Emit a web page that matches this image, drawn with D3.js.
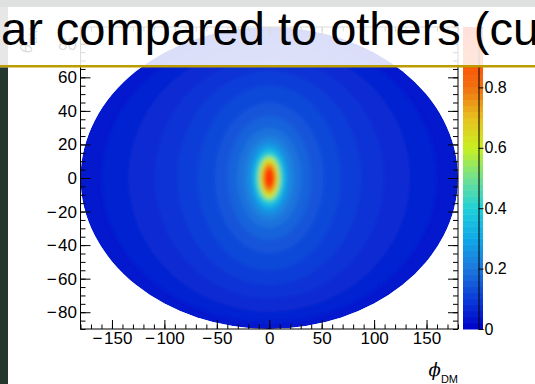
<!DOCTYPE html>
<html>
<head>
<meta charset="utf-8">
<script src="https://cdn.jsdelivr.net/npm/d3@7"></script>
<style>
  html, body { margin: 0; padding: 0; background: #ffffff; }
  svg { display: block; font-family: "Liberation Sans", Arial, sans-serif; }
</style>
</head>
<body>
<svg id="chart" width="535" height="384"></svg>
<script>
// axis ranges and tick labels
var phiDomain = [-180, 180];
var thetaDomain = [-90, 90];
var zDomain = [0, 1];
var phiTicks = [-150, -100, -50, 0, 50, 100, 150];
var thetaTicks = [-80, -60, -40, -20, 0, 20, 40, 60, 80];
var zTicks = [0, 0.2, 0.4, 0.6, 0.8];

// density contour bands (outermost first)
var bandLevel = [0.04, 0.055, 0.07, 0.085, 0.10, 0.12, 0.14, 0.165, 0.19, 0.22,
                 0.26, 0.31, 0.37, 0.44, 0.52, 0.60, 0.68, 0.76, 0.84, 0.92, 0.97];
var bandPhi   = [180, 160, 135, 110, 88, 68, 52, 40, 31, 24,
                 19, 16, 14, 12, 10.5, 9, 8, 6.5, 5.5, 4.5, 3.2];
var bandTheta = [90, 86, 80, 72, 64, 55, 45, 37, 30, 25,
                 21.5, 18.5, 16.5, 14.5, 13, 12, 10.5, 8.5, 7, 5.5, 4];

// colour palette stops
var paletteStops  = [0, 0.1, 0.2, 0.3, 0.4, 0.5, 0.6, 0.7, 0.8, 0.9, 1.0];
var paletteColors = ["#0000c8", "#0a3cd8", "#1e78dc", "#10a8e8", "#20d0d8", "#70e090",
                     "#c8f020", "#e8c020", "#f07010", "#ff4a00", "#ff2800"];

var titleText = "ar compared to others (cu";

var svg = d3.select("#chart");

var frame = { left: 80.5, right: 458, top: 27, bottom: 329 };
var x = d3.scaleLinear().domain(phiDomain).range([frame.left, frame.right]);
var y = d3.scaleLinear().domain(thetaDomain).range([frame.bottom, frame.top]);
var zy = d3.scaleLinear().domain(zDomain).range([frame.bottom, frame.top]);
var color = d3.scaleLinear().domain(paletteStops).range(paletteColors);

var defs = svg.append("defs");
defs.append("clipPath").attr("id", "outer")
  .append("ellipse")
  .attr("cx", x(0)).attr("cy", y(0))
  .attr("rx", x(bandPhi[0]) - x(0)).attr("ry", y(0) - y(bandTheta[0]));
defs.append("filter").attr("id", "soft")
  .attr("x", "-30%").attr("y", "-30%").attr("width", "160%").attr("height", "160%")
  .append("feGaussianBlur").attr("stdDeviation", 2);

// heat map bands
var heat = svg.append("g").attr("clip-path", "url(#outer)");
heat.append("ellipse")
  .attr("cx", x(0)).attr("cy", y(0))
  .attr("rx", x(bandPhi[0]) - x(0)).attr("ry", y(0) - y(bandTheta[0]))
  .attr("fill", color(bandLevel[0]));
heat.append("g").attr("filter", "url(#soft)")
  .selectAll("ellipse")
  .data(d3.range(1, bandLevel.length))
  .enter().append("ellipse")
  .attr("cx", x(0)).attr("cy", y(0))
  .attr("rx", i => x(bandPhi[i]) - x(0))
  .attr("ry", i => y(0) - y(bandTheta[i]))
  .attr("fill", i => color(bandLevel[i]));

// frame
svg.append("rect")
  .attr("x", frame.left).attr("y", frame.top)
  .attr("width", frame.right - frame.left).attr("height", frame.bottom - frame.top)
  .attr("fill", "none").attr("stroke", "#000").attr("stroke-width", 1);

var phiMinor = d3.range(-180, 181, 10);
var thetaMinor = d3.range(-90, 91, 5);

function styleAxis(g) {
  g.select(".domain").remove();
  g.selectAll("line").attr("stroke", "#000");
  g.selectAll("text").attr("fill", "#000").style("font-size", "17px");
}

// ROOT-like labels: long minus sign then digits
function labelMinus(sel) {
  sel.each(function(d) {
    var t = d3.select(this).text("");
    if (d < 0) {
      t.append("tspan").text("\u2212");
      t.append("tspan").attr("dx", 1.5).text(Math.abs(d));
    } else {
      t.append("tspan").text(d);
    }
  });
}

// x axis bottom + top
svg.append("g").attr("transform", "translate(0," + frame.bottom + ")")
  .call(d3.axisBottom(x).tickValues(phiMinor).tickSize(-4.5).tickFormat("")).call(styleAxis);
svg.append("g").attr("transform", "translate(0," + frame.bottom + ")")
  .call(d3.axisBottom(x).tickValues(phiTicks).tickSize(-9).tickPadding(3))
  .call(styleAxis)
  .selectAll("text").call(labelMinus);
svg.append("g").attr("transform", "translate(0," + frame.top + ")")
  .call(d3.axisTop(x).tickValues(phiMinor).tickSize(-4.5).tickFormat("")).call(styleAxis);
svg.append("g").attr("transform", "translate(0," + frame.top + ")")
  .call(d3.axisTop(x).tickValues(phiTicks).tickSize(-9).tickFormat("")).call(styleAxis);

// y axis left + right
svg.append("g").attr("transform", "translate(" + frame.left + ",0)")
  .call(d3.axisLeft(y).tickValues(thetaMinor).tickSize(-5).tickFormat("")).call(styleAxis);
svg.append("g").attr("transform", "translate(" + frame.left + ",0)")
  .call(d3.axisLeft(y).tickValues(thetaTicks).tickSize(-10).tickPadding(3.5))
  .call(styleAxis)
  .selectAll("text").call(labelMinus);
svg.append("g").attr("transform", "translate(" + frame.right + ",0)")
  .call(d3.axisRight(y).tickValues(thetaMinor).tickSize(-5).tickFormat("")).call(styleAxis);
svg.append("g").attr("transform", "translate(" + frame.right + ",0)")
  .call(d3.axisRight(y).tickValues(thetaTicks).tickSize(-10).tickFormat("")).call(styleAxis);

// palette
var pal = { left: 463, right: 483 };
var nCol = 50;
svg.append("g").selectAll("rect")
  .data(d3.range(nCol))
  .enter().append("rect")
  .attr("x", pal.left).attr("width", pal.right - pal.left)
  .attr("y", i => zy((i + 1) / nCol))
  .attr("height", i => zy(i / nCol) - zy((i + 1) / nCol) + 0.5)
  .attr("fill", i => color((i + 0.5) / nCol));
svg.append("g").attr("transform", "translate(478.5,0)")
  .call(d3.axisRight(zy).tickValues(zTicks).tickSize(5).tickPadding(1).tickFormat(d => String(d)))
  .call(g => g.select(".domain").attr("stroke", "#000"))
  .call(g => g.selectAll("line").attr("stroke", "#000"))
  .call(g => g.selectAll("text").attr("fill", "#000").style("font-size", "16px"));

// axis titles
var yt = svg.append("text")
  .attr("transform", "translate(32," + frame.top + ") rotate(-90)")
  .attr("text-anchor", "end").attr("fill", "#000");
yt.append("tspan").style("font-size", "17px").style("font-style", "italic").text("\u03b8");
yt.append("tspan").style("font-size", "11px").attr("dy", 5).text("DM");

var xt = svg.append("text")
  .attr("x", frame.right).attr("y", 376)
  .attr("text-anchor", "end").attr("fill", "#000");
xt.append("tspan").style("font-size", "18px").style("font-style", "italic")
  .style("font-family", "'DejaVu Serif', serif").text("\u03d5");
xt.append("tspan").style("font-size", "11px").attr("dy", 7).text("DM");

// slide decoration: title band over the plot
svg.append("rect").attr("x", 0).attr("y", 0).attr("width", 535).attr("height", 7).attr("fill", "#dfe1e0");
svg.append("rect").attr("x", 0).attr("y", 7).attr("width", 8).attr("height", 59).attr("fill", "#e6e7e6");
svg.append("rect").attr("x", 8).attr("y", 7).attr("width", 527).attr("height", 59)
  .attr("fill", "#ffffff").attr("fill-opacity", 0.86);
svg.append("rect").attr("x", 0).attr("y", 65).attr("width", 535).attr("height", 2.5).attr("fill", "#bb9d00");
svg.append("rect").attr("x", 0).attr("y", 67.5).attr("width", 8).attr("height", 317).attr("fill", "#24372f");
svg.append("text")
  .attr("x", 1).attr("y", 45)
  .style("font-size", "47px").attr("fill", "#000")
  .text(titleText);
</script>
</body>
</html>
